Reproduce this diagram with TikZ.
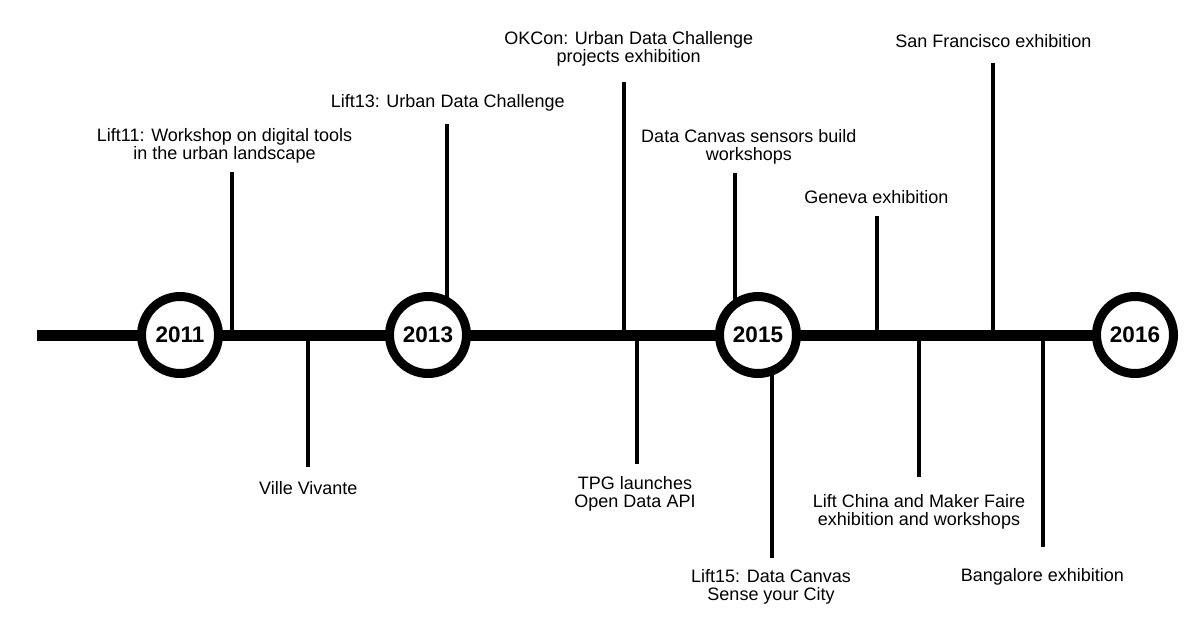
\documentclass[tikz,border=0pt]{standalone}
\usepackage{fontspec}
\setmainfont{Liberation Sans}
\begin{document}
\begin{tikzpicture}[x=1pt,y=-1pt,
  mainline/.style={line width=11pt},
  tick/.style={line width=4pt},
  year/.style={circle,draw,line width=9pt,fill=white,minimum size=77pt,inner sep=0pt,font=\fontsize{22.5}{24}\selectfont\bfseries},
  lbl/.style={align=center,inner sep=0pt,font=\fontsize{18}{18}\selectfont}]
\useasboundingbox (0,0) rectangle (1200,624);
% timeline coordinates
\coordinate (start) at (37,335);
% labels
\node[lbl] (lift11) at (224.5,146) {Lift11: Workshop on digital tools\\in the urban landscape};
\node[lbl] (lift13) at (447.7,102.7) {Lift13: Urban Data Challenge};
\node[lbl] (okcon) at (628.7,49) {OKCon: Urban Data Challenge\\projects exhibition};
\node[lbl] (dcs) at (748.8,146.7) {Data Canvas sensors build\\workshops};
\node[lbl] (geneva) at (876.3,197.3) {Geneva exhibition};
\node[lbl] (sf) at (993.3,40.7) {San Francisco exhibition};
\node[lbl] (ville) at (308.3,488.3) {Ville Vivante};
\node[lbl] (tpg) at (635,494) {TPG launches\\Open Data API};
\node[lbl] (lift15) at (771,586.7) {Lift15: Data Canvas\\Sense your City};
\node[lbl] (china) at (919,512) {Lift China and Maker Faire\\exhibition and workshops};
\node[lbl] (bangalore) at (1042.3,577.3) {Bangalore exhibition};
% tick ends
\coordinate (t1a) at (232,172);  \coordinate (t1b) at (232,335);
\coordinate (t2a) at (447,124);  \coordinate (t2b) at (447,335);
\coordinate (t3a) at (624,82);   \coordinate (t3b) at (624,335);
\coordinate (t4a) at (735,173);  \coordinate (t4b) at (735,335);
\coordinate (t5a) at (877,216);  \coordinate (t5b) at (877,335);
\coordinate (t6a) at (993,63);   \coordinate (t6b) at (993,335);
\coordinate (b1a) at (308,335);  \coordinate (b1b) at (308,467);
\coordinate (b2a) at (637,335);  \coordinate (b2b) at (637,464);
\coordinate (b3a) at (772,335);  \coordinate (b3b) at (772,558);
\coordinate (b4a) at (919,335);  \coordinate (b4b) at (919,477);
\coordinate (b5a) at (1043,335); \coordinate (b5b) at (1043,547);
\coordinate (end) at (1135,335);
% ticks
\foreach \t in {t1,t2,t3,t4,t5,t6,b1,b2,b3,b4,b5}
  \draw[tick] (\t a) -- (\t b);
% main line
\draw[mainline] (start) -- (end);
% year circles
\node[year] (y2011) at (180,335) {2011};
\node[year] (y2013) at (428,335) {2013};
\node[year] (y2015) at (758,335) {2015};
\node[year] (y2016) at (1135,335) {2016};
\end{tikzpicture}
\end{document}
